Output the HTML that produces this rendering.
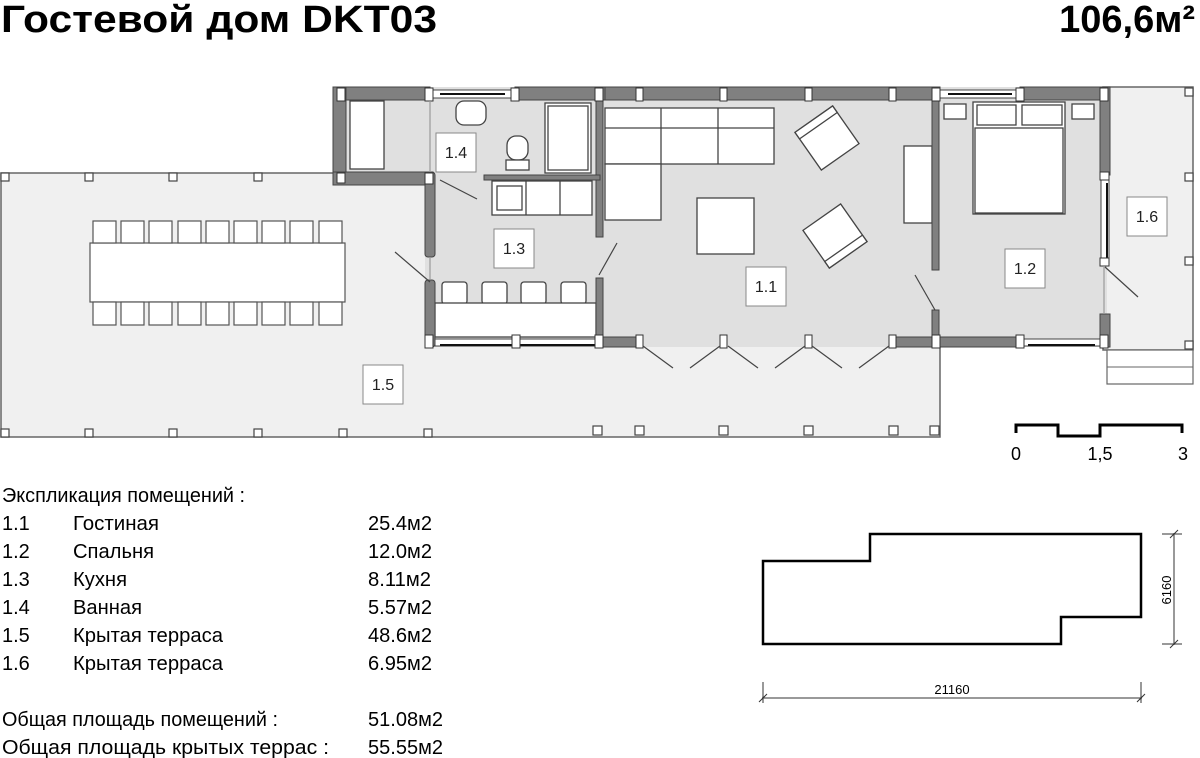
<!DOCTYPE html>
<html><head><meta charset="utf-8"><style>
html,body{margin:0;padding:0;background:#fff;width:1200px;height:758px;overflow:hidden}
svg{display:block}
text{font-family:"Liberation Sans",sans-serif}
</style></head><body>
<svg width="1200" height="758" viewBox="0 0 1200 758">
<!-- title -->
<text x="1" y="32" font-size="38" font-weight="bold" textLength="436" lengthAdjust="spacingAndGlyphs">Гостевой дом DKT03</text>
<text x="1195" y="32" font-size="38" font-weight="bold" text-anchor="end">106,6м²</text>

<!-- terraces -->
<rect x="1" y="173" width="939" height="264" fill="#f0f0f0" stroke="#666" stroke-width="1.5"/>
<rect x="1103" y="87" width="90" height="263" fill="#f0f0f0" stroke="#666" stroke-width="1.5"/>
<rect x="1107" y="350" width="86" height="34" fill="#fff" stroke="#666" stroke-width="1.2"/>
<line x1="1107" y1="367" x2="1193" y2="367" stroke="#666"/>
<g fill="#fff" stroke="#444" stroke-width="1.2">
<rect x="1" y="173" width="8" height="8"/><rect x="85" y="173" width="8" height="8"/><rect x="169" y="173" width="8" height="8"/><rect x="254" y="173" width="8" height="8"/>
<rect x="1" y="429" width="8" height="8"/><rect x="85" y="429" width="8" height="8"/><rect x="169" y="429" width="8" height="8"/><rect x="254" y="429" width="8" height="8"/><rect x="339" y="429" width="8" height="8"/><rect x="424" y="429" width="8" height="8"/><rect x="593" y="426" width="9" height="9"/><rect x="635" y="426" width="9" height="9"/><rect x="719" y="426" width="9" height="9"/><rect x="804" y="426" width="9" height="9"/><rect x="889" y="426" width="9" height="9"/><rect x="930" y="426" width="9" height="9"/>
<rect x="1185" y="88" width="8" height="8"/><rect x="1185" y="173" width="8" height="8"/><rect x="1185" y="257" width="8" height="8"/><rect x="1185" y="341" width="8" height="8"/>
</g>

<!-- house floor -->
<path d="M333,87 H1107 V347 H425 V185 H333 Z" fill="#e0e0e0"/>

<!-- dining -->
<g fill="#fff" stroke="#555" stroke-width="1.2">
<rect x="90" y="243" width="255" height="59"/>
<rect x="93" y="221" width="23" height="22"/><rect x="121" y="221" width="23" height="22"/><rect x="149" y="221" width="23" height="22"/><rect x="178" y="221" width="23" height="22"/><rect x="206" y="221" width="23" height="22"/><rect x="234" y="221" width="23" height="22"/><rect x="262" y="221" width="23" height="22"/><rect x="290" y="221" width="23" height="22"/><rect x="319" y="221" width="23" height="22"/>
<rect x="93" y="302" width="23" height="23"/><rect x="121" y="302" width="23" height="23"/><rect x="149" y="302" width="23" height="23"/><rect x="178" y="302" width="23" height="23"/><rect x="206" y="302" width="23" height="23"/><rect x="234" y="302" width="23" height="23"/><rect x="262" y="302" width="23" height="23"/><rect x="290" y="302" width="23" height="23"/><rect x="319" y="302" width="23" height="23"/>
</g>

<!-- furniture -->
<g fill="#fff" stroke="#444" stroke-width="1.3">
<rect x="350" y="101" width="34" height="68"/>
<rect x="456" y="101" width="30" height="24" rx="8"/>
<rect x="507" y="136" width="21" height="24" rx="9"/><rect x="506" y="160" width="23" height="10"/>
<rect x="545" y="103" width="46" height="70"/><rect x="548" y="106" width="40" height="64"/>
<rect x="492" y="181" width="100" height="34"/><line x1="526" y1="181" x2="526" y2="215"/><line x1="560" y1="181" x2="560" y2="215"/>
<rect x="497" y="186" width="25" height="24"/>
<rect x="442" y="282" width="25" height="22" rx="3"/><rect x="482" y="282" width="25" height="22" rx="3"/><rect x="521" y="282" width="25" height="22" rx="3"/><rect x="561" y="282" width="25" height="22" rx="3"/>
<rect x="435" y="303" width="161" height="34"/>
<rect x="605" y="108" width="169" height="56"/><line x1="605" y1="128" x2="774" y2="128"/><line x1="661" y1="108" x2="661" y2="164"/><line x1="718" y1="108" x2="718" y2="164"/>
<rect x="605" y="164" width="56" height="56"/>
<rect x="697" y="198" width="57" height="56"/>
<g transform="translate(827,138) rotate(-35)"><rect x="-23" y="-23" width="46" height="46"/><rect x="-23" y="-23" width="46" height="8"/></g>
<g transform="translate(835,236) rotate(-35)"><rect x="-23" y="-23" width="46" height="46"/><rect x="-23" y="15" width="46" height="8"/></g>
<rect x="904" y="146" width="28" height="77"/>
<rect x="944" y="104" width="22" height="15"/><rect x="1072" y="104" width="22" height="15"/>
<rect x="973" y="102" width="92" height="112"/>
<rect x="977" y="105" width="39" height="20"/><rect x="1022" y="105" width="40" height="20"/>
<rect x="975" y="128" width="88" height="85"/>
</g>

<!-- walls -->
<g fill="#808080" stroke="#444" stroke-width="1">
<rect x="333" y="87" width="97" height="13"/>
<rect x="515" y="87" width="90" height="13"/>
<rect x="605" y="87" width="335" height="13"/>
<rect x="1020" y="87" width="87" height="13"/>
<rect x="333" y="87" width="13" height="98"/>
<rect x="333" y="172" width="100" height="13"/>
<rect x="425" y="172" width="10" height="85" rx="3"/>
<rect x="425" y="280" width="10" height="67" rx="3"/>
<rect x="596" y="92" width="7" height="145"/>
<rect x="596" y="278" width="7" height="69"/>
<rect x="600" y="337" width="40" height="10"/><rect x="893" y="337" width="47" height="10"/><rect x="940" y="337" width="83" height="10"/>
<rect x="932" y="92" width="7" height="178"/>
<rect x="932" y="310" width="7" height="37"/>
<rect x="1100" y="87" width="10" height="88"/>
<rect x="1100" y="314" width="10" height="33"/>
<rect x="484" y="175" width="116" height="5"/>
</g>
<!-- windows -->
<g fill="#fff" stroke="#444" stroke-width="1">
<rect x="430" y="90" width="85" height="8"/><rect x="940" y="90" width="80" height="8"/>
<rect x="435" y="339" width="165" height="7"/><rect x="1023" y="339" width="77" height="7"/>
<rect x="1101" y="178" width="8" height="85"/>
</g>
<g stroke="#111" stroke-width="2">
<line x1="440" y1="94" x2="505" y2="94"/><line x1="948" y1="94" x2="1012" y2="94"/>
<line x1="440" y1="345" x2="595" y2="345"/><line x1="1028" y1="345" x2="1095" y2="345"/>
<line x1="1107" y1="183" x2="1107" y2="258"/>
</g>
<!-- posts -->
<g fill="#fff" stroke="#333" stroke-width="1">
<rect x="337" y="88" width="8" height="13"/><rect x="425" y="88" width="8" height="13"/><rect x="511" y="88" width="8" height="13"/><rect x="595" y="88" width="8" height="13"/><rect x="636" y="88" width="7" height="13"/><rect x="720" y="88" width="7" height="13"/><rect x="805" y="88" width="7" height="13"/><rect x="889" y="88" width="7" height="13"/><rect x="932" y="88" width="8" height="13"/><rect x="1016" y="88" width="8" height="13"/><rect x="1100" y="88" width="8" height="13"/>
<rect x="337" y="173" width="8" height="10"/><rect x="425" y="173" width="8" height="11"/>
<rect x="425" y="335" width="8" height="13"/><rect x="512" y="335" width="8" height="13"/><rect x="595" y="335" width="8" height="13"/><rect x="636" y="335" width="7" height="13"/><rect x="720" y="335" width="7" height="13"/><rect x="805" y="335" width="7" height="13"/><rect x="889" y="335" width="7" height="13"/><rect x="932" y="335" width="8" height="13"/><rect x="1016" y="335" width="8" height="13"/><rect x="1100" y="335" width="8" height="13"/>
<rect x="1100" y="172" width="9" height="8"/><rect x="1100" y="258" width="9" height="8"/>
</g>
<!-- door swings -->
<g stroke="#444" stroke-width="1.2">
<line x1="440" y1="180" x2="477" y2="199"/>
<line x1="395" y1="252" x2="430" y2="282"/>
<line x1="617" y1="243" x2="599" y2="275"/>
<line x1="915" y1="275" x2="935" y2="310"/>
<line x1="1105" y1="267" x2="1138" y2="297"/>
<line x1="643" y1="346" x2="673" y2="368"/><line x1="690" y1="368" x2="720" y2="346"/>
<line x1="728" y1="346" x2="758" y2="368"/><line x1="775" y1="368" x2="805" y2="346"/>
<line x1="812" y1="346" x2="842" y2="368"/><line x1="859" y1="368" x2="889" y2="346"/>
<line x1="430" y1="100" x2="430" y2="172" stroke="#999"/>
<line x1="430" y1="257" x2="430" y2="280" stroke="#999"/>
<line x1="1104" y1="266" x2="1104" y2="314" stroke="#999"/>
</g>

<!-- room labels -->
<g fill="#fff" stroke="#888" stroke-width="1">
<rect x="436" y="133" width="40" height="39"/><rect x="494" y="229" width="40" height="39"/><rect x="746" y="267" width="40" height="39"/><rect x="1005" y="249" width="40" height="39"/><rect x="1127" y="197" width="40" height="39"/><rect x="363" y="365" width="40" height="39"/>
</g>
<g font-size="16" text-anchor="middle" fill="#222">
<text x="456" y="158">1.4</text><text x="514" y="254">1.3</text><text x="766" y="292">1.1</text><text x="1025" y="274">1.2</text><text x="1147" y="222">1.6</text><text x="383" y="390">1.5</text>
</g>

<!-- scale -->
<path d="M1016,433 V425 H1058 V436 H1100 V425 H1182 V433" fill="none" stroke="#000" stroke-width="3"/>
<g font-size="18" text-anchor="middle"><text x="1016" y="460">0</text><text x="1100" y="460">1,5</text><text x="1183" y="460">3</text></g>

<!-- footprint -->
<path d="M763,561 H870 V534 H1141 V617 H1061 V644 H763 Z" fill="none" stroke="#000" stroke-width="2.5"/>
<g stroke="#333" stroke-width="1">
<line x1="762" y1="698" x2="1142" y2="698"/><line x1="763" y1="682" x2="763" y2="703"/><line x1="1141" y1="682" x2="1141" y2="703"/>
<line x1="759" y1="702" x2="767" y2="694"/><line x1="1137" y1="702" x2="1145" y2="694"/>
<line x1="1174" y1="533" x2="1174" y2="645"/><line x1="1162" y1="534" x2="1182" y2="534"/><line x1="1162" y1="644" x2="1182" y2="644"/>
<line x1="1170" y1="538" x2="1178" y2="530"/><line x1="1170" y1="648" x2="1178" y2="640"/>
</g>
<text x="952" y="694" font-size="13" text-anchor="middle">21160</text>
<text x="0" y="0" font-size="13" text-anchor="middle" transform="translate(1171,590) rotate(-90)">6160</text>

<!-- legend -->
<g font-size="20" fill="#000">
<text x="2" y="502" textLength="243" lengthAdjust="spacingAndGlyphs">Экспликация помещений :</text>
<text x="2" y="530">1.1</text><text x="73" y="530" textLength="86" lengthAdjust="spacingAndGlyphs">Гостиная</text><text x="368" y="530" textLength="64" lengthAdjust="spacingAndGlyphs">25.4м2</text>
<text x="2" y="558">1.2</text><text x="73" y="558" textLength="81" lengthAdjust="spacingAndGlyphs">Спальня</text><text x="368" y="558" textLength="64" lengthAdjust="spacingAndGlyphs">12.0м2</text>
<text x="2" y="586">1.3</text><text x="73" y="586" textLength="54" lengthAdjust="spacingAndGlyphs">Кухня</text><text x="368" y="586" textLength="63" lengthAdjust="spacingAndGlyphs">8.11м2</text>
<text x="2" y="614">1.4</text><text x="73" y="614" textLength="69" lengthAdjust="spacingAndGlyphs">Ванная</text><text x="368" y="614" textLength="64" lengthAdjust="spacingAndGlyphs">5.57м2</text>
<text x="2" y="642">1.5</text><text x="73" y="642" textLength="150" lengthAdjust="spacingAndGlyphs">Крытая терраса</text><text x="368" y="642" textLength="64" lengthAdjust="spacingAndGlyphs">48.6м2</text>
<text x="2" y="670">1.6</text><text x="73" y="670" textLength="150" lengthAdjust="spacingAndGlyphs">Крытая терраса</text><text x="368" y="670" textLength="64" lengthAdjust="spacingAndGlyphs">6.95м2</text>
<text x="2" y="726" textLength="276" lengthAdjust="spacingAndGlyphs">Общая площадь помещений :</text><text x="368" y="726" textLength="75" lengthAdjust="spacingAndGlyphs">51.08м2</text>
<text x="2" y="754" textLength="327" lengthAdjust="spacingAndGlyphs">Общая площадь крытых террас  :</text><text x="368" y="754" textLength="75" lengthAdjust="spacingAndGlyphs">55.55м2</text>
</g>
</svg>
</body></html>
